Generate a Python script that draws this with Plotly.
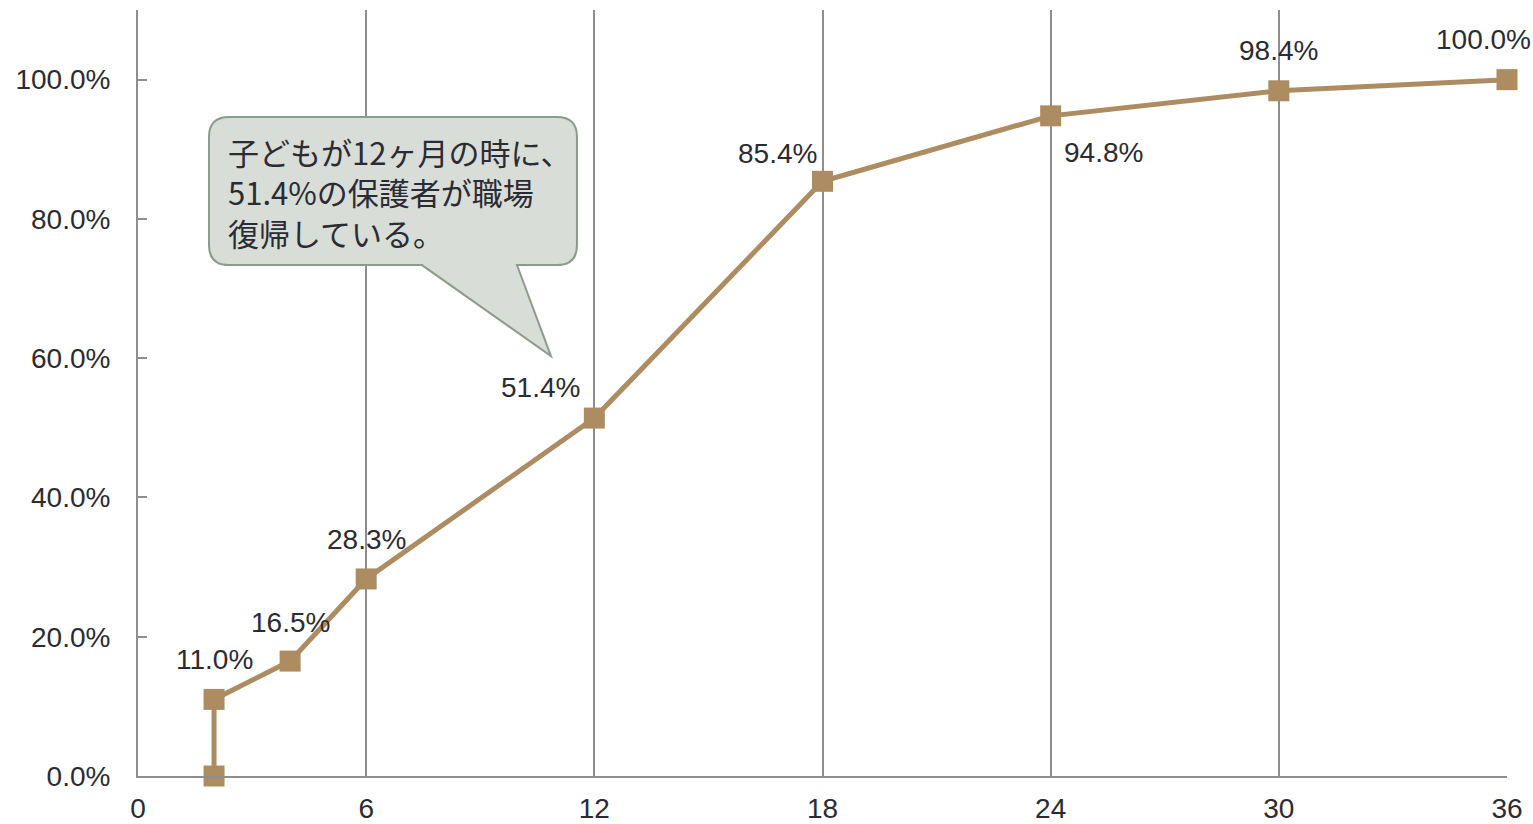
import plotly.graph_objects as go

# Months since birth and cumulative share of parents back at work
months = [2, 2, 4, 6, 12, 18, 24, 30, 36]
share = [0.0, 11.0, 16.5, 28.3, 51.4, 85.4, 94.8, 98.4, 100.0]
x_ticks = [0, 6, 12, 18, 24, 30, 36]
y_ticks = [0, 20, 40, 60, 80, 100]
y_tick_labels = ["0.0%", "20.0%", "40.0%", "60.0%", "80.0%", "100.0%"]
callout_lines = ["子どもが12ヶ月の時に、", "51.4%の保護者が職場", "復帰している。"]

# Pixel offsets of each value label from its marker (None = no label)
label_shift = [None, (0, 40), (0, 39), (0, 39), (-54, 31), (-45, 28), (53, -37), (0, 40), (-24, 40)]

LINE = "#ad8c62"
GRID = "#8e8e8e"
TEXT = "#2b2b33"
FONT = "Liberation Sans, Arial, sans-serif"
FS = 28

fig = go.Figure()
fig.add_trace(go.Scatter(
    x=months, y=share, mode="lines+markers",
    line=dict(color=LINE, width=5),
    marker=dict(symbol="square", size=21, color=LINE),
    cliponaxis=False, showlegend=False, hoverinfo="skip",
))

annotations = []
for xv, yv, sh in zip(months, share, label_shift):
    if sh is None:
        continue
    annotations.append(dict(
        x=xv, y=yv, xref="x", yref="y", text=f"{yv:.1f}%", showarrow=False,
        xshift=sh[0], yshift=sh[1], xanchor="center", yanchor="middle",
        font=dict(family=FONT, size=FS, color=TEXT),
    ))

# Speech-bubble callout pointing at the 12-month point
tip_x, tip_y = 10.86, 60.3
r = 20
L, R, B, T = -342, 26, 91, 239
bubble = (
    f"M {L + r},{T} L {R - r},{T} Q {R},{T} {R},{T - r} "
    f"L {R},{B + r} Q {R},{B} {R - r},{B} "
    f"L -34,{B} L 0,0 L -129,{B} "
    f"L {L + r},{B} Q {L},{B} {L},{B + r} "
    f"L {L},{T - r} Q {L},{T} {L + r},{T} Z"
)
shapes = [dict(
    type="path", path=bubble, xref="x", yref="y",
    xsizemode="pixel", ysizemode="pixel", xanchor=tip_x, yanchor=tip_y,
    fillcolor="#d8ddd7", line=dict(color="#8c9c8c", width=2), layer="above",
)]
annotations.append(dict(
    x=tip_x, y=tip_y, xref="x", yref="y", text="<br>".join(callout_lines),
    showarrow=False, xshift=-325, yshift=164, xanchor="left", yanchor="middle",
    align="left",
    font=dict(family="Noto Sans CJK JP, sans-serif", size=31, color=TEXT),
))

fig.update_layout(
    width=1533, height=824,
    margin=dict(l=138, r=26, t=10, b=48),
    paper_bgcolor="white", plot_bgcolor="white",
    shapes=shapes, annotations=annotations,
    xaxis=dict(
        range=[0, 36], tickvals=x_ticks, ticktext=[str(v) for v in x_ticks],
        showgrid=True, gridcolor=GRID, gridwidth=1.5,
        showline=True, linecolor=GRID, linewidth=2, zeroline=False,
        ticks="", ticklabelstandoff=6, automargin=False,
        tickfont=dict(family=FONT, size=FS, color=TEXT),
    ),
    yaxis=dict(
        range=[0, 110], tickvals=y_ticks, ticktext=y_tick_labels,
        showgrid=False, showline=True, linecolor=GRID, linewidth=2, zeroline=False,
        ticks="inside", ticklen=9, tickcolor=GRID, tickwidth=1.5,
        ticklabelstandoff=20, automargin=False,
        tickfont=dict(family=FONT, size=FS, color=TEXT),
    ),
)

fig.write_html("out.html")
